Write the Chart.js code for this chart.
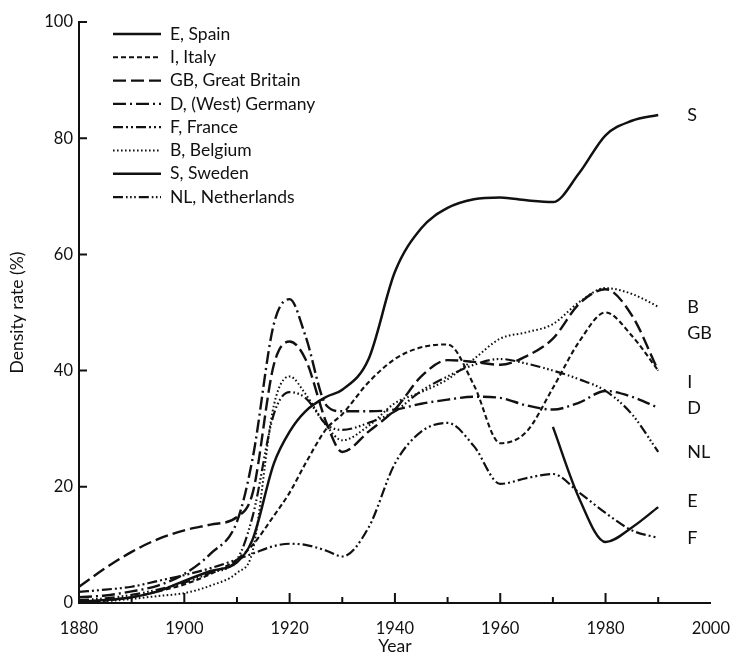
<!DOCTYPE html>
<html>
<head>
<meta charset="utf-8">
<script src="https://cdn.jsdelivr.net/npm/chart.js@4.4.1/dist/chart.umd.min.js"></script>
<style>
  html, body { margin: 0; padding: 0; background: #fff; }
  canvas { display: block; }
</style>
</head>
<body>
<canvas id="c" width="746" height="657"></canvas>
<script>
// ---- data ----
const years = [1880,1885,1890,1895,1900,1905,1910,1913,1917,1920,1923,1927,1930,1935,1940,1945,1950,1955,1960,1965,1970,1975,1980,1985,1990];

const spain       = [null,null,null,null,null,null,null,null,null,null,null,null,null,null,null,null,null,null,null,null,30.3,18,10.5,13,16.5];
const italy       = [0,0.4,1,2,3.2,5,7.5,10,15,19,24,30,32.5,38,42,44,44.5,37.5,27.5,29.5,37,45,50,46,40];
const greatBritain= [2.8,6,8.8,11,12.5,13.5,14.8,19,41,45,42,31,26,29.5,33.3,39,41.8,41.5,41,42.5,45.5,51.5,54,49.5,40];
const germany     = [1,1.3,2,3,5,8.5,14,25,48,52.3,46,34,33,33,33.3,34.3,35,35.5,35.3,34,33.3,34.5,36.5,35.5,33.6];
const france      = [1.9,2.3,2.8,3.8,4.8,6,7.5,8.5,9.8,10.2,10,9,8,13,24,29.5,31,27,20.5,21.5,22.2,19,15.5,12.5,11.2];
const belgium     = [0,0.3,0.7,1.2,1.7,3,5.2,9,34,39,36,30.5,28,30.5,34.4,36.3,38.5,42,45.5,46.6,48,51.8,54.2,53.2,51];
const sweden      = [0.2,0.5,1,2,3.8,5.5,7,11,24,29.5,33,35.5,36.7,42,57,64.5,68,69.5,69.8,69.3,69,74,80.5,83,84];
const netherlands = [0.5,0.8,1.4,2.3,3.5,5.2,7.5,15,32.5,36.3,35.3,30.7,29.8,31,33,36.5,39,41,42,41.2,40,38.5,36.5,32.5,26];

const legendNames = ['E, Spain','I, Italy','GB, Great Britain','D, (West) Germany','F, France','B, Belgium','S, Sweden','NL, Netherlands'];
const endCodes    = ['E','I','GB','D','F','B','S','NL'];
const endShift    = [1,-2,6.5,0,0,0,0,0];   // label nudges (data units)

const xTicks = [1880,1900,1920,1940,1960,1980,2000];
const xMinorTicks = [1890,1900,1910,1920,1930,1940,1950,1960,1970,1980,1990];
const yTicks = [0,20,40,60,80,100];

// ---- styles ----
const INK = '#111111';
const FONT = 'Lato, "Open Sans", sans-serif';
const dashes = [
  [],                     // E solid
  [5,3],                  // I short dash
  [13,5],                 // GB long dash
  [13,4,2,4],             // D dash-dot
  [10,3,2,3,2,3],         // F dash-dot-dot
  [1.6,2.4],              // B dotted
  [],                     // S solid
  [10,3,1.6,2.5,1.6,2.5,1.6,3] // NL dash-dot-dot-dot
];
const widths = [2.4,2.1,2.4,2.4,2.2,2,2.5,2.2];

const seriesList = [spain, italy, greatBritain, germany, france, belgium, sweden, netherlands];

function toPoints(vals) {
  const pts = [];
  years.forEach((yr, i) => { if (vals[i] !== null) pts.push({x: yr, y: vals[i]}); });
  return pts;
}

const datasets = seriesList.map((vals, i) => ({
  label: legendNames[i],
  data: toPoints(vals),
  borderColor: INK,
  backgroundColor: INK,
  borderWidth: widths[i],
  borderDash: dashes[i],
  borderCapStyle: 'butt',
  pointRadius: 0,
  fill: false,
  cubicInterpolationMode: 'monotone'
}));

const decorPlugin = {
  id: 'decor',
  afterDatasetsDraw(chart) {
    const ctx = chart.ctx;
    const xs = chart.scales.x, ys = chart.scales.y;
    ctx.save();
    ctx.strokeStyle = INK;
    ctx.fillStyle = INK;
    // inward tick marks
    ctx.setLineDash([]);
    ctx.lineWidth = 2;
    ctx.beginPath();
    xMinorTicks.forEach(v => {
      const px = xs.getPixelForValue(v);
      const len = (v % 20 === 0) ? 10 : 6;
      ctx.moveTo(px, ys.bottom);
      ctx.lineTo(px, ys.bottom - len);
    });
    yTicks.forEach(v => {
      const py = ys.getPixelForValue(v);
      ctx.moveTo(xs.left, py);
      ctx.lineTo(xs.left + 8, py);
    });
    ctx.stroke();

    // end-of-line labels
    ctx.font = '18px ' + FONT;
    ctx.textAlign = 'left';
    ctx.textBaseline = 'middle';
    chart.data.datasets.forEach((ds, i) => {
      const last = ds.data[ds.data.length - 1];
      const px = xs.getPixelForValue(last.x) + 29;
      const py = ys.getPixelForValue(last.y + endShift[i]);
      ctx.fillText(endCodes[i], px, py);
    });

    // legend (inside plot, top-left)
    ctx.font = '17.5px ' + FONT;
    const lx0 = xs.left + 34, lx1 = xs.left + 82;
    chart.data.datasets.forEach((ds, i) => {
      const ly = ys.top + 12 + i * 23.3;
      ctx.beginPath();
      ctx.lineWidth = ds.borderWidth;
      ctx.setLineDash(ds.borderDash);
      ctx.moveTo(lx0, ly);
      ctx.lineTo(lx1, ly);
      ctx.stroke();
      ctx.setLineDash([]);
      ctx.fillText(ds.label, lx1 + 9, ly);
    });
    ctx.restore();
  }
};

new Chart(document.getElementById('c'), {
  type: 'line',
  data: { datasets },
  plugins: [decorPlugin],
  options: {
    responsive: false,
    animation: false,
    events: [],
    layout: { padding: { top: 22, right: 26, left: 0, bottom: 0 } },
    plugins: { legend: { display: false }, tooltip: { enabled: false } },
    scales: {
      x: {
        type: 'linear', min: 1880, max: 2000,
        afterBuildTicks: s => { s.ticks = xTicks.map(v => ({ value: v })); },
        afterFit: s => { s.height = 54; },
        grid: { display: false, drawTicks: false },
        border: { display: true, color: INK, width: 2 },
        ticks: { color: INK, font: { family: FONT, size: 16.5 }, padding: 16, maxRotation: 0, autoSkip: false,
                 callback: v => String(v) },
        title: { display: true, text: 'Year', color: INK, font: { family: FONT, size: 17.5 }, padding: { top: 0, bottom: 0 } }
      },
      y: {
        min: 0, max: 100,
        afterBuildTicks: s => { s.ticks = yTicks.map(v => ({ value: v })); },
        afterFit: s => { s.width = 79; },
        grid: { display: false, drawTicks: false },
        border: { display: true, color: INK, width: 2 },
        ticks: { color: INK, font: { family: FONT, size: 16.5 }, padding: 6, callback: v => String(v) },
        title: { display: true, text: 'Density rate (%)', color: INK, font: { family: FONT, size: 17.5 }, padding: { top: 7, bottom: 0 } }
      }
    }
  }
});
</script>
</body>
</html>
